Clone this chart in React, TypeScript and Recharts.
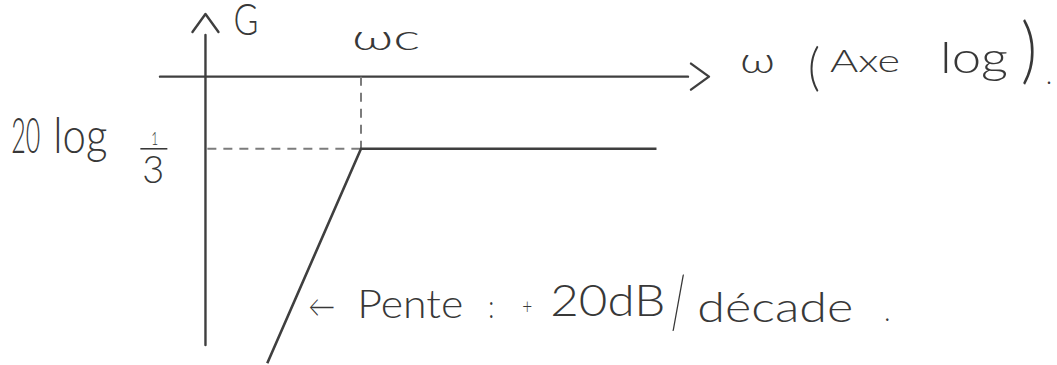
import { Line, LineChart, ReferenceDot, ReferenceLine, XAxis, YAxis } from 'recharts';

// asymptotic gain of the high-pass: rising part then flat at 20 log(1/3)
const omega = [0.038, 1, 30000];
const gainDb = [-37.9, -9.54, -9.54];

const omegaC = 1;
const gainFlat = -9.54; // 20 log(1/3)

// hand-drawn axes
const axisOmega = [0.0009, 90000]; // horizontal axis, at G = 0
const axisGain = [-35.5, 5.5]; // vertical axis
const gainAxisAt = 0.0044;
const guideStart = 0.0047;

const data = omega.map((w, i) => ({ w, g: gainDb[i] }));

const INK = '#3f3f3f';
const TEXT = '#383838';

type Piece = { text: string; dx: number; dy: number; size: number; len?: number };

function Scribble({ viewBox, pieces, bar }: { viewBox?: any; pieces: Piece[]; bar?: [number, number, number] }) {
  const x = viewBox?.x ?? 0;
  const y = viewBox?.y ?? 0;
  return (
    <g>
      {pieces.map((p, i) => (
        <text
          key={i}
          x={x + p.dx}
          y={y + p.dy}
          fontSize={p.size}
          fontFamily='Lato, "DejaVu Sans", sans-serif'
          fontWeight={300}
          fill={TEXT}
          textLength={p.len}
          lengthAdjust="spacingAndGlyphs"
        >
          {p.text}
        </text>
      ))}
      {bar && <line x1={x + bar[0]} x2={x + bar[1]} y1={y + bar[2]} y2={y + bar[2]} stroke={TEXT} strokeWidth={1.6} />}
    </g>
  );
}

const arrowLine = (props: any) => (
  <line
    x1={props.x1}
    y1={props.y1}
    x2={props.x2}
    y2={props.y2}
    stroke={INK}
    strokeWidth={2.4}
    strokeLinecap="round"
    markerEnd="url(#open-arrow)"
  />
);

export default function App() {
  return (
    <div style={{ position: 'absolute', left: 0, top: 0, width: 1057, height: 365, background: '#fff' }}>
      <svg width={0} height={0} style={{ position: 'absolute' }}>
        <defs>
          <marker
            id="open-arrow"
            markerUnits="userSpaceOnUse"
            markerWidth={30}
            markerHeight={30}
            refX={0}
            refY={13}
            orient="auto"
            overflow="visible"
          >
            <path d="M 3 0 L 21 13 L 3 26" fill="none" stroke={INK} strokeWidth={2.4} strokeLinecap="round" strokeLinejoin="round" />
          </marker>
        </defs>
      </svg>
      <LineChart width={1057} height={365} data={data} margin={{ top: 1, right: 366, bottom: 1, left: 163 }}>
        <XAxis dataKey="w" type="number" scale="log" domain={[0.001, 100000]} hide allowDataOverflow />
        <YAxis type="number" domain={[-38, 10]} hide allowDataOverflow />

        <ReferenceLine
          segment={[{ x: axisOmega[0], y: 0 }, { x: axisOmega[1], y: 0 }]}
          ifOverflow="visible"
          shape={arrowLine}
        />
        <ReferenceLine
          segment={[{ x: gainAxisAt, y: axisGain[0] }, { x: gainAxisAt, y: axisGain[1] }]}
          ifOverflow="visible"
          shape={arrowLine}
        />
        <ReferenceLine
          segment={[{ x: omegaC, y: 0 }, { x: omegaC, y: gainFlat }]}
          stroke="#7c7c7c"
          strokeWidth={2}
          strokeDasharray="9 7"
          ifOverflow="visible"
        />
        <ReferenceLine
          segment={[{ x: guideStart, y: gainFlat }, { x: omegaC, y: gainFlat }]}
          stroke="#7c7c7c"
          strokeWidth={2}
          strokeDasharray="9 7"
          ifOverflow="visible"
        />

        <Line dataKey="g" type="linear" stroke={INK} strokeWidth={2.6} dot={false} isAnimationActive={false} />

        <ReferenceDot
          x={gainAxisAt}
          y={axisGain[1]}
          r={0}
          fill="none"
          stroke="none"
          ifOverflow="visible"
          label={{ content: (p: any) => <Scribble viewBox={p.viewBox} pieces={[{ text: 'G', dx: 28, dy: 0, size: 44, len: 25 }]} /> }}
        />
        <ReferenceDot
          x={axisOmega[1]}
          y={0}
          r={0}
          fill="none"
          stroke="none"
          ifOverflow="visible"
          label={{
            content: (p: any) => (
              <Scribble
                viewBox={p.viewBox}
                pieces={[
                  { text: 'ω', dx: 52, dy: -4, size: 36, len: 35 },
                  { text: '(', dx: 120, dy: 8, size: 52, len: 12 },
                  { text: 'Axe', dx: 142, dy: -5, size: 32, len: 70 },
                  { text: 'log', dx: 252, dy: -4, size: 44, len: 68 },
                  { text: ')', dx: 333, dy: -2, size: 72, len: 16 },
                  { text: '.', dx: 358, dy: 7, size: 28, len: 6 },
                ]}
              />
            ),
          }}
        />
        <ReferenceDot
          x={omegaC}
          y={0}
          r={0}
          fill="none"
          stroke="none"
          ifOverflow="visible"
          label={{ content: (p: any) => <Scribble viewBox={p.viewBox} pieces={[{ text: 'ωc', dx: -9, dy: -27, size: 36, len: 68 }]} /> }}
        />
        <ReferenceDot
          x={guideStart}
          y={gainFlat}
          r={0}
          fill="none"
          stroke="none"
          ifOverflow="visible"
          label={{
            content: (p: any) => (
              <Scribble
                viewBox={p.viewBox}
                bar={[-67, -40, 0]}
                pieces={[
                  { text: '20', dx: -196, dy: 4, size: 50, len: 29 },
                  { text: 'log', dx: -154, dy: 4, size: 50, len: 54 },
                  { text: '1', dx: -56, dy: -4, size: 17, len: 7 },
                  { text: '3', dx: -65, dy: 34, size: 37, len: 22 },
                ]}
              />
            ),
          }}
        />
        <ReferenceDot
          x={omega[0]}
          y={gainDb[0]}
          r={0}
          fill="none"
          stroke="none"
          ifOverflow="visible"
          label={{
            content: (p: any) => (
              <Scribble
                viewBox={p.viewBox}
                pieces={[
                  { text: '←', dx: 41, dy: -46, size: 30, len: 27 },
                  { text: 'Pente', dx: 90, dy: -45, size: 40, len: 106 },
                  { text: ':', dx: 221, dy: -45, size: 32, len: 6 },
                  { text: '+', dx: 255, dy: -49, size: 22, len: 10 },
                  { text: '20dB', dx: 283, dy: -47, size: 44, len: 115 },
                  { text: '/', dx: 404, dy: -35, size: 72, len: 14 },
                  { text: 'décade', dx: 430, dy: -41, size: 42, len: 156 },
                  { text: '.', dx: 617, dy: -42, size: 30, len: 6 },
                ]}
              />
            ),
          }}
        />
      </LineChart>
    </div>
  );
}
